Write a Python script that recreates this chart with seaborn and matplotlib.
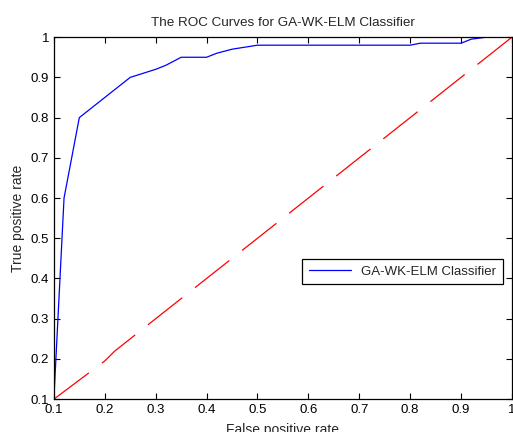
import numpy as np
import pandas as pd
import seaborn as sns
import matplotlib
matplotlib.use('Agg')
import matplotlib.pyplot as plt
from matplotlib.ticker import FuncFormatter

# ROC 곡선 값
fpr = [0.10, 0.12, 0.15, 0.20, 0.22, 0.25, 0.30, 0.32, 0.35, 0.40, 0.42, 0.45,
       0.50, 0.80, 0.82, 0.90, 0.92, 0.95, 1.00]
tpr = [0.10, 0.60, 0.80, 0.85, 0.87, 0.90, 0.92, 0.93, 0.95, 0.95, 0.96, 0.97,
       0.98, 0.98, 0.985, 0.985, 0.995, 1.00, 1.00]

# 대각선 (random classifier)
diag_x = [0.1, 0.2, 0.22, 0.3, 0.4, 0.5, 0.6, 0.7, 0.72, 0.8, 0.9, 1.0]
diag_y = [0.1, 0.195, 0.22, 0.3, 0.4, 0.5, 0.6, 0.7, 0.72, 0.8, 0.9, 1.0]

ticks = [0.1, 0.2, 0.3, 0.4, 0.5, 0.6, 0.7, 0.8, 0.9, 1.0]

sns.set_style('ticks')
plt.rcParams['font.family'] = ['Liberation Sans', 'DejaVu Sans']

df = pd.DataFrame({'fpr': fpr, 'tpr': tpr})
df_diag = pd.DataFrame({'x': diag_x, 'y': diag_y})

fig = plt.figure(figsize=(5.13, 4.32), dpi=100)
ax = fig.add_axes([0.105, 0.076, 0.893, 0.838])

sns.lineplot(data=df, x='fpr', y='tpr', color='blue', lw=0.9, sort=False,
             label='GA-WK-ELM Classifier', ax=ax)
sns.lineplot(data=df_diag, x='x', y='y', color='red', lw=0.9, sort=False, ax=ax)
ax.lines[1].set_dashes((35, 13))

ax.set_xlim(0.1, 1.0)
ax.set_ylim(0.1, 1.0)
ax.set_xticks(ticks)
ax.set_yticks(ticks)
fmt = FuncFormatter(lambda v, p: '1' if abs(v - 1) < 1e-9 else f'{v:.1f}')
ax.xaxis.set_major_formatter(fmt)
ax.yaxis.set_major_formatter(fmt)
ax.tick_params(direction='in', length=4, width=0.8, labelsize=9.5,
               top=True, right=True, colors='black')
for s in ax.spines.values():
    s.set_linewidth(0.9)
    s.set_color('black')

ax.set_title('The ROC Curves for GA-WK-ELM Classifier', fontsize=9.7, pad=8)
ax.set_xlabel('False positive rate', fontsize=10, labelpad=5)
ax.set_ylabel('True positive rate', fontsize=10, labelpad=4)

leg = ax.legend(loc='center right', bbox_to_anchor=(0.995, 0.352), fontsize=9.5,
                fancybox=False, framealpha=1, edgecolor='black',
                handlelength=3.2, borderpad=0.5)
leg.get_frame().set_linewidth(0.9)

fig.savefig('out.png', dpi=100)
